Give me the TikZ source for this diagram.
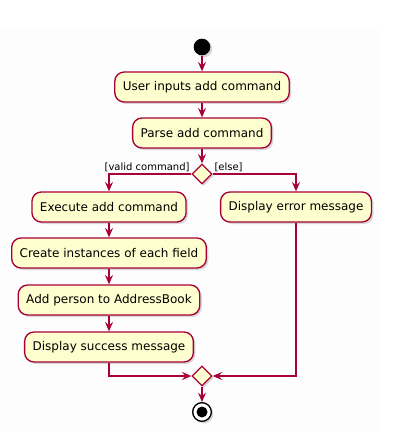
\documentclass[tikz,border=0pt]{standalone}
\usepackage{fontspec}
\setmainfont{DejaVu Sans}
\usetikzlibrary{shapes.geometric,arrows.meta,shadows}

\tikzset{every picture/.style={line width=0.75pt}}
\tikzset{
	actbox/.style={draw={rgb, 255:red, 168; green, 0; blue, 54 }, line width=1pt, fill={rgb, 255:red, 254; green, 254; blue, 206 }, rounded corners=7pt, minimum height=22.5pt, inner xsep=6pt, font=\fontsize{9}{11}\selectfont, drop shadow={shadow xshift=1.5pt, shadow yshift=-1.5pt, opacity=0.3}},
	branch/.style={diamond, draw={rgb, 255:red, 168; green, 0; blue, 54 }, line width=1pt, fill={rgb, 255:red, 254; green, 254; blue, 206 }, minimum width=15pt, minimum height=15pt, inner sep=0pt, aspect=1, drop shadow={shadow xshift=1.5pt, shadow yshift=-1.5pt, opacity=0.3}},
	flow/.style={draw={rgb, 255:red, 168; green, 0; blue, 54 }, line width=0.9pt, -{Stealth[length=7pt, width=6pt, inset=2.5pt]}},
	guard/.style={font=\fontsize{7.5}{9}\selectfont, inner sep=1pt}
}

\begin{document}
\begin{tikzpicture}[x=0.75pt,y=0.75pt,yscale=-1,xscale=1]
		\useasboundingbox (0,0) rectangle (413,431);
		\fill [color={rgb, 255:red, 253; green, 253; blue, 253 }] (0,30) rectangle (382,431);

		%start and stop
		\node [circle, fill=black, minimum size=12.5pt, inner sep=0pt, drop shadow={shadow xshift=1.5pt, shadow yshift=-1.5pt, opacity=0.3}] (start) at (202,47) {};
		\node [circle, draw=black, fill=white, line width=1pt, minimum size=14pt, inner sep=0pt, drop shadow={shadow xshift=1.5pt, shadow yshift=-1.5pt, opacity=0.3}] (stop) at (202,412) {};
		\fill [black] (stop.center) circle [radius=5.5];

		%actions
		\node [actbox] (userin) at (202,87) {User inputs add command};
		\node [actbox] (parse) at (202,133) {Parse add command};
		\node [branch] (check) at (202,174) {};
		\node [actbox] (exec) at (109,207) {Execute add command};
		\node [actbox] (errmsg) at (296,207) {Display error message};
		\node [actbox] (fields) at (109,253) {Create instances of each field};
		\node [actbox] (addperson) at (109,300) {Add person to AddressBook};
		\node [actbox] (success) at (109,347) {Display success message};
		\node [branch] (merge) at (202,376) {};

		%guards
		\node [guard, anchor=south east] (validlbl) at (check.west) {[valid command]};
		\node [guard, anchor=south west] (elselbl) at (check.east) {[else]};

		%connectors
		\draw [flow] (start) -- (userin);
		\draw [flow] (userin) -- (parse);
		\draw [flow] (parse) -- (check);
		\draw [flow] (check.west) -| (exec.north);
		\draw [flow] (check.east) -| (errmsg.north);
		\draw [flow] (exec) -- (fields);
		\draw [flow] (fields) -- (addperson);
		\draw [flow] (addperson) -- (success);
		\draw [flow] (success.south) |- (merge.west);
		\draw [flow] (errmsg.south) |- (merge.east);
		\draw [flow] (merge) -- (stop);

		\end{tikzpicture}
\end{document}
